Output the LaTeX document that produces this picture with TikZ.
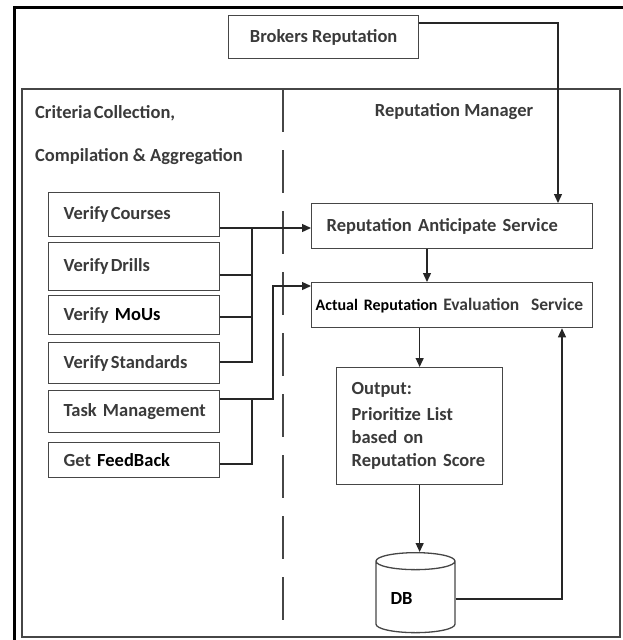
\documentclass[tikz,border=0pt]{standalone}
\usepackage{fontspec}
\setmainfont{Carlito}
\usetikzlibrary{shapes.geometric,arrows.meta}
\definecolor{txt}{HTML}{3A3A3A}
\definecolor{ln}{HTML}{464646}
\begin{document}
\begin{tikzpicture}[x=1pt,y=-1pt,
  fs/.style={font=\fontsize{18.5}{23}\selectfont\bfseries},
  box/.style={draw=ln, line width=1.3pt, anchor=north west, inner ysep=0pt, text=txt, fs},
  lbox/.style={box, text width=141pt, inner xsep=15pt, align=left},
  rbox/.style={box, text width=251pt, inner xsep=15pt, minimum height=45pt, align=left},
  lbl/.style={anchor=west, inner sep=0pt, text=txt, fs},
  conn/.style={draw=black!85, line width=1.3pt},
  arr/.style={conn, -{Triangle[length=9pt,width=8pt]}}]
\useasboundingbox (0,0) rectangle (623,640);
% frames
\draw[line width=3pt, black] (14,645) -- (14,7) -- (630,7);
\draw[ln, line width=1.2pt] (22,89) rectangle (620,637);
\draw[ln, line width=1.2pt, dash pattern=on 43pt off 18pt] (283,89) -- (283,637);
% titles
\node[lbl] (t1) at (35,113) {Criteria\kern2pt Collection,};
\node[lbl] (t2) at (35,157) {Compilation \& Aggregation};
\node[lbl, anchor=center] (t3) at (454,112) {Reputation Manager};
% top box
\node[box, minimum width=190pt, minimum height=43pt, inner xsep=0pt] (brk) at (228,15) {Brokers Reputation};
% left boxes
\node[lbox, minimum height=44pt] (vc) at (48,192) {Verify\kern2pt Courses};
\node[lbox, minimum height=48pt] (vd) at (48,242) {Verify\kern2pt Drills};
\node[lbox, minimum height=39pt] (vm) at (48,295) {Verify \textcolor{black}{MoUs}};
\node[lbox, minimum height=41pt] (vs) at (48,342) {Verify\kern2pt Standards};
\node[lbox, minimum height=42pt] (tm) at (48,390) {\mbox{Task Management}};
\node[lbox, minimum height=35pt] (gf) at (48,442) {Get \textcolor{black}{FeedBack}};
% right boxes
\node[rbox] (ras) at (311,203) {Reputation Anticipate Service};
\node[box, text width=273pt, inner xsep=4pt, minimum height=45pt, align=left,
  font=\fontsize{17.5}{22}\selectfont\bfseries] (aes) at (311,282)
  {\textcolor{black}{\fontsize{16}{20}\selectfont Actual Reputation} Evaluation\ \ Service};
\node[box, text width=136pt, inner xsep=15pt, minimum height=117pt, align=left] (out) at (336,367)
  {Output:\\[3pt]Prioritize List\\based on\\Reputation Score};
\node[draw=ln, line width=1.3pt, cylinder, shape border rotate=90, aspect=0.3,
  minimum width=79pt, minimum height=80pt, text=black, fs, text width=50pt, align=left,
  anchor=north] (db) at (415.5,552) {DB};
% helper coordinates
\coordinate (bx) at (558,23);
\coordinate (b1) at (252,228);
\coordinate (y2) at (252,275);
\coordinate (y3) at (252,317);
\coordinate (y4) at (252,362);
\coordinate (y5) at (252,399);
\coordinate (y6) at (252,464);
\coordinate (k1) at (273,399);
\coordinate (k2) at (273,286);
\coordinate (xa) at (427,0);
\coordinate (xb) at (562,0);
% connectors
\draw[arr] (brk.east |- bx) -| (ras.north -| bx);
\draw[arr] (vc.east |- b1) -- (ras.west |- b1);
\draw[conn] (vd.east |- y2) -- (y2);
\draw[conn] (vm.east |- y3) -- (y3);
\draw[conn] (vs.east |- y4) -- (y4) -- (b1);
\draw[conn] (gf.east |- y6) -- (y6) -- (y5);
\draw[arr] (tm.east |- y5) -- (k1) -- (k2) -- (aes.west |- k2);
\draw[arr] (ras.south -| xa) -- (aes.north -| xa);
\draw[arr] (aes.south -| out.north) -- (out.north);
\draw[arr] (out.south) -- (out.south |- db.north);
\draw[arr] (db.east) -| (aes.south -| xb);
\end{tikzpicture}
\end{document}
